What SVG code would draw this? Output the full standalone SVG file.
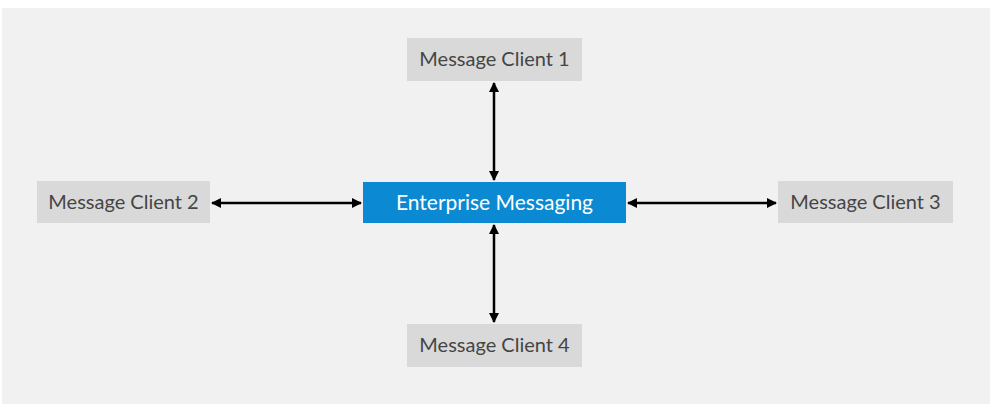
<svg xmlns="http://www.w3.org/2000/svg" width="992" height="414" viewBox="0 0 992 414">
<style>
.bg{fill:#f1f1f1}
.client{fill:#d9d9d9}
.core{fill:#0b8ad3}
.t{font-family:Lato,"Open Sans","Liberation Sans",sans-serif;font-size:20px;text-anchor:middle}
.tc{fill:#454545}
.tw{fill:#ffffff;font-size:21px}
.conn{stroke:#000;stroke-width:2.5;fill:none;marker-start:url(#ah);marker-end:url(#ah)}
</style>
<defs>
<marker id="ah" viewBox="0 0 10 10" refX="9" refY="5" markerWidth="10" markerHeight="10" markerUnits="userSpaceOnUse" orient="auto-start-reverse">
<path d="M0,0 L10,5 L0,10 z" fill="#000"/>
</marker>
</defs>
<rect x="0" y="0" width="992" height="414" fill="#ffffff"/>
<rect class="bg" x="2" y="8" width="988" height="396"/>
<g id="connectors">
<line class="conn" x1="494" y1="83" x2="494" y2="180"/>
<line class="conn" x1="494" y1="225" x2="494" y2="322"/>
<line class="conn" x1="212" y1="203" x2="361" y2="203"/>
<line class="conn" x1="628" y1="203" x2="776" y2="203"/>
</g>
<g id="enterprise-messaging">
<rect class="core" x="363" y="182" width="263" height="41"/>
<text class="t tw" x="494.5" y="210">Enterprise Messaging</text>
</g>
<g id="message-client-1">
<rect class="client" x="407" y="38" width="175" height="43"/>
<text class="t tc" x="494.5" y="66">Message Client 1</text>
</g>
<g id="message-client-2">
<rect class="client" x="37" y="181" width="173" height="42"/>
<text class="t tc" x="123.5" y="209">Message Client 2</text>
</g>
<g id="message-client-3">
<rect class="client" x="778" y="181" width="175" height="42"/>
<text class="t tc" x="865.5" y="209">Message Client 3</text>
</g>
<g id="message-client-4">
<rect class="client" x="407" y="324" width="175" height="43"/>
<text class="t tc" x="494.5" y="352">Message Client 4</text>
</g>
</svg>
